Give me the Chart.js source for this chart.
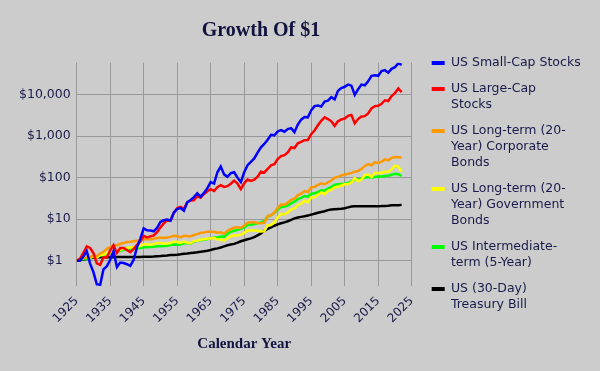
<!DOCTYPE html>
<html>
<head>
<meta charset="utf-8">
<script src="https://cdn.jsdelivr.net/npm/chart.js@4.4.0/dist/chart.umd.min.js"></script>
<style>
  html, body { margin: 0; padding: 0; background: #cccccc; }
  #wrap { width: 600px; height: 371px; }
</style>
</head>
<body>
<div id="wrap"><canvas id="growth-chart" width="600" height="371"></canvas></div>
<script>
// year-end values of $1 invested at the end of 1925
const years = Array.from({length: 98}, (_, i) => 1925 + i);

const smallCap = [
  1.00, 1.00, 1.25, 1.70, 0.85, 0.53, 0.27, 0.26, 0.62, 0.73,
  1.05, 1.70, 0.70, 0.90, 0.88, 0.82, 0.75, 1.05, 2.10, 3.40,
  6.00, 5.40, 5.30, 5.10, 6.20, 8.60, 9.40, 9.80, 9.20, 14.5,
  17.5, 18.5, 16.0, 25.5, 29.0, 34.0, 42.0, 35.0, 43.0, 56.0,
  78, 72, 135, 185, 120, 105, 128, 135, 100, 78,
  135, 200, 240, 290, 400, 540, 650, 820, 1080, 1050,
  1300, 1400, 1280, 1480, 1560, 1250, 1900, 2500, 2900, 2850,
  4200, 5300, 5500, 5200, 6800, 7200, 8700, 7700, 12500, 14500,
  15500, 17500, 16500, 9900, 13500, 17500, 16800, 21000, 28500, 29500,
  28500, 37000, 39000, 34000, 42000, 46000, 57000, 52000
];

const largeCap = [
  1.00, 1.12, 1.53, 2.20, 2.02, 1.52, 0.86, 0.79, 1.21, 1.20,
  1.77, 2.37, 1.54, 2.02, 2.01, 1.81, 1.60, 1.93, 2.42, 2.90,
  3.96, 3.64, 3.85, 4.07, 4.83, 6.36, 7.89, 9.33, 9.24, 14.10,
  18.56, 19.78, 17.65, 25.30, 28.32, 28.45, 36.10, 32.95, 40.45, 47.12,
  52.98, 47.65, 59.07, 65.60, 60.02, 62.42, 71.34, 84.85, 72.41, 53.24,
  73.04, 90.46, 83.95, 89.41, 105.89, 140.21, 133.33, 161.91, 198.43, 210.85,
  279.11, 330.67, 347.96, 406.46, 534.46, 517.50, 675.59, 727.41, 800.08, 810.54,
  1113.92, 1370.95, 1828.33, 2350.89, 2845.63, 2586.52, 2279.13, 1775.34, 2284.79, 2533.20,
  2657.56, 3077.33, 3246.39, 2045.40, 2586.52, 2976.20, 3039.05, 3525.58, 4667.34, 5306.85,
  5380.39, 6023.88, 7338.62, 7016.88, 9226.00, 10923.00, 14059.00, 11512.00
];

const corpBonds = [
  1.00, 1.07, 1.16, 1.19, 1.23, 1.30, 1.28, 1.49, 1.64, 1.93,
  2.13, 2.29, 2.35, 2.55, 2.65, 2.80, 2.85, 2.93, 3.01, 3.13,
  3.26, 3.31, 3.23, 3.41, 3.52, 3.59, 3.50, 3.62, 3.74, 3.96,
  3.92, 3.65, 3.98, 3.91, 3.82, 4.16, 4.35, 4.69, 4.78, 5.00,
  4.98, 4.96, 4.71, 4.83, 4.43, 5.22, 5.79, 6.30, 6.37, 6.12,
  7.01, 8.26, 8.39, 8.41, 8.07, 8.01, 8.25, 11.87, 12.41, 14.43,
  18.74, 22.46, 22.27, 24.98, 29.10, 31.07, 37.97, 41.14, 47.38, 44.99,
  58.45, 59.42, 67.00, 72.88, 69.29, 77.28, 85.28, 99.59, 104.51, 113.21,
  119.21, 124.34, 128.52, 139.33, 144.64, 162.49, 192.09, 212.56, 199.39, 234.90,
  225.99, 242.49, 274.75, 261.58, 300.00, 315.00, 312.00, 308.00
];

const govBonds = [
  1.00, 1.08, 1.17, 1.17, 1.21, 1.26, 1.19, 1.39, 1.39, 1.53,
  1.60, 1.72, 1.73, 1.83, 1.94, 2.05, 2.07, 2.13, 2.17, 2.24,
  2.48, 2.48, 2.42, 2.50, 2.66, 2.65, 2.55, 2.58, 2.67, 2.87,
  2.84, 2.68, 2.89, 2.71, 2.64, 3.00, 3.03, 3.24, 3.28, 3.40,
  3.43, 3.56, 3.23, 3.22, 3.06, 3.43, 3.88, 4.10, 4.05, 4.23,
  4.62, 5.40, 5.36, 5.30, 5.24, 5.03, 5.10, 7.16, 7.21, 8.33,
  10.90, 13.49, 13.14, 14.54, 17.19, 18.25, 21.76, 23.49, 27.78, 25.64,
  33.78, 33.46, 38.80, 44.02, 40.05, 48.35, 50.74, 59.04, 60.22, 64.93,
  69.25, 70.09, 76.84, 96.70, 82.30, 90.60, 115.20, 119.00, 104.00, 129.60,
  128.70, 130.00, 138.00, 138.00, 158.00, 195.00, 185.00, 140.00
];

const interBonds = [
  1.00, 1.05, 1.09, 1.10, 1.16, 1.23, 1.21, 1.32, 1.34, 1.46,
  1.56, 1.61, 1.64, 1.74, 1.82, 1.87, 1.88, 1.93, 1.98, 2.02,
  2.09, 2.11, 2.13, 2.17, 2.22, 2.23, 2.26, 2.30, 2.38, 2.44,
  2.43, 2.45, 2.63, 2.61, 2.60, 2.91, 2.98, 3.14, 3.20, 3.33,
  3.44, 3.60, 3.63, 3.80, 3.78, 4.42, 5.00, 5.26, 5.51, 5.82,
  6.29, 7.22, 7.33, 7.68, 8.00, 8.31, 9.07, 11.51, 12.38, 14.15,
  16.97, 19.55, 20.11, 21.29, 24.13, 26.33, 30.36, 32.63, 36.03, 34.76,
  40.98, 41.89, 45.14, 49.66, 48.91, 54.99, 59.43, 67.55, 69.09, 70.63,
  71.60, 74.04, 81.17, 91.16, 88.93, 95.30, 101.29, 103.20, 100.97, 104.26,
  106.07, 107.12, 109.11, 110.61, 117.58, 124.42, 121.64, 109.70
];

const tBills = [
  1.00, 1.03, 1.07, 1.10, 1.15, 1.18, 1.19, 1.20, 1.21, 1.21,
  1.21, 1.21, 1.22, 1.22, 1.22, 1.22, 1.22, 1.22, 1.23, 1.23,
  1.24, 1.24, 1.25, 1.26, 1.28, 1.29, 1.31, 1.33, 1.36, 1.37,
  1.39, 1.42, 1.46, 1.48, 1.52, 1.56, 1.59, 1.63, 1.68, 1.74,
  1.81, 1.90, 1.98, 2.08, 2.21, 2.35, 2.45, 2.54, 2.72, 2.94,
  3.11, 3.27, 3.44, 3.69, 4.08, 4.53, 5.22, 5.80, 6.33, 6.95,
  7.49, 7.95, 8.37, 8.91, 9.65, 10.43, 10.98, 11.36, 11.71, 12.20,
  12.89, 13.54, 14.23, 14.90, 15.58, 16.49, 17.15, 17.44, 17.62, 17.84,
  18.40, 19.27, 20.15, 20.45, 20.47, 20.50, 20.51, 20.53, 20.54, 20.55,
  20.56, 20.62, 20.80, 21.18, 21.66, 21.78, 21.79, 22.10
];

const yearTicks = [1925, 1935, 1945, 1955, 1965, 1975, 1985, 1995, 2005, 2015, 2025];
const dollarTicks = [1, 10, 100, 1000, 10000];

const legendLines = [
  ["US Small-Cap Stocks"],
  ["US Large-Cap", "Stocks"],
  ["US Long-term (20-", "Year) Corporate", "Bonds"],
  ["US Long-term (20-", "Year) Government", "Bonds"],
  ["US Intermediate-", "term (5-Year)"],
  ["US (30-Day)", "Treasury Bill"]
];

const seriesList = [smallCap, largeCap, corpBonds, govBonds, interBonds, tBills];
const colors = ["#0000ff", "#ff0000", "#ff9900", "#ffff00", "#00ff00", "#000000"];

const inkColor = "#1a1a4a";
const gridColor = "#999999";

// nudge title and legend to where the original puts them
const placeBoxes = {
  id: "placeBoxes",
  beforeLayout(chart) {
    const lg = chart.legend;
    if (lg && !lg.widthFixed) {
      const fit = lg.fit.bind(lg);
      lg.fit = function () { fit(); lg.width = 188.3; };
      lg.widthFixed = true;
    }
  },
  afterLayout(chart) {
    chart.legend.left += 10;
    chart.legend.right += 10;
    chart.titleBlock.left -= 39;
    chart.titleBlock.right -= 39;
  }
};

const ctx = document.getElementById("growth-chart").getContext("2d");

new Chart(ctx, {
  type: "line",
  data: {
    datasets: seriesList.map((vals, i) => ({
      label: legendLines[i].join(" "),
      data: years.map((yr, j) => ({x: yr, y: vals[j]})),
      borderColor: colors[i],
      backgroundColor: colors[i],
      borderWidth: 2.5,
      pointRadius: 0,
      tension: 0,
      fill: false
    }))
  },
  options: {
    responsive: false,
    animation: false,
    events: [],
    layout: {padding: 0},
    plugins: {
      title: {
        display: true,
        text: "Growth Of $1",
        color: "#12123f",
        font: {family: "'Liberation Serif', serif", size: 20, weight: "bold", lineHeight: 1.2},
        padding: {top: 19, bottom: 19.7}
      },
      legend: {
        position: "right",
        align: "start",
        title: {display: true, text: "", font: {size: 12, lineHeight: 1.2}, padding: {top: 32.35, bottom: 0}},
        labels: {
          boxWidth: 13,
          boxHeight: 4,
          padding: 10,
          color: inkColor,
          font: {family: "'DejaVu Sans', sans-serif", size: 12.5, lineHeight: 1.28},
          generateLabels: chart => chart.data.datasets.map((ds, i) => ({
            text: legendLines[i],
            fillStyle: ds.borderColor,
            strokeStyle: ds.borderColor,
            lineWidth: 0,
            fontColor: inkColor,
            hidden: false,
            datasetIndex: i
          }))
        }
      },
      tooltip: {enabled: false}
    },
    scales: {
      x: {
        type: "linear",
        min: 1925,
        max: 2025,
        afterBuildTicks: s => { s.ticks = yearTicks.map(v => ({value: v})); },
        afterFit: s => { s.height = 85; },
        border: {display: false},
        grid: {color: gridColor, lineWidth: 1, drawTicks: false},
        ticks: {
          color: inkColor,
          font: {family: "'DejaVu Sans', sans-serif", size: 12},
          padding: 8,
          minRotation: 45,
          maxRotation: 45,
          autoSkip: false,
          callback: v => String(v)
        },
        title: {
          display: true,
          text: "Calendar Year",
          color: "#12123f",
          font: {family: "'Liberation Serif', serif", size: 15, weight: "bold", lineHeight: 1.2},
          padding: {top: 4, bottom: 17.7}
        }
      },
      y: {
        type: "logarithmic",
        min: 0.245,
        max: 59000,
        afterBuildTicks: s => { s.ticks = dollarTicks.map(v => ({value: v})); },
        afterFit: s => { s.width = 76.7; },
        border: {display: false},
        grid: {color: gridColor, lineWidth: 1, drawTicks: false},
        ticks: {
          color: inkColor,
          font: {family: "'DejaVu Sans', sans-serif", size: 12.5},
          padding: 6,
          callback: v => {
            let s = "$" + Number(v).toLocaleString("en-US");
            if (s.length < 3) s += "\u2007";
            return s;
          }
        }
      }
    }
  },
  plugins: [placeBoxes]
});
</script>
</body>
</html>
